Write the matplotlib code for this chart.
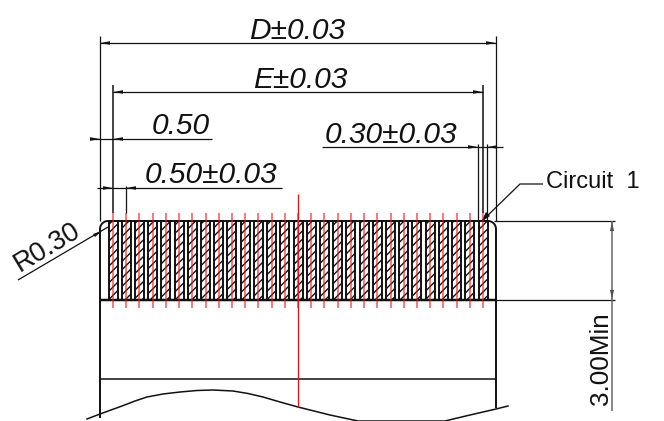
import numpy as np
import matplotlib
matplotlib.use("Agg")
import matplotlib.pyplot as plt
from matplotlib.patches import Rectangle

plt.rcParams["hatch.linewidth"] = 1.0
plt.rcParams["hatch.color"] = "#111111"

# everything is measured in reference pixels
body_left = 100
body_right = 496
body_top = 221
body_bottom = 300
corner = 8
pad_count = 29
pad_first = 113
pad_last = 483
pad_width = 9
center_x = 298

wave_x = [87, 100, 122, 135, 147, 163, 180, 197, 213, 233, 248, 263, 280, 298,
          330, 358, 445, 470, 496, 508]
wave_y = [419, 414, 406, 401, 397, 394, 392, 390.5, 390, 391, 393.5, 397, 402, 407,
          415, 421, 421, 415, 409, 406]

lw_main = 1.4
lw_thin = 0.9
black = "#111111"
red = "#f01010"


def line(ax, xs, ys, lw=lw_thin, color=black, **kw):
    ax.plot(xs, ys, color=color, lw=lw, solid_capstyle="butt", **kw)


def arrow(ax, x, y, direction):
    # small filled arrow head with its tip at (x, y)
    ax.fill([x, x + direction * 10, x + direction * 10], [y, y - 1.8, y + 1.8],
            color=black, lw=0)


def vert_arrow(ax, x, y, direction):
    ax.fill([x, x - 1.8, x + 1.8], [y, y + direction * 10, y + direction * 10],
            color=black, lw=0)


def label(ax, x, y, s, size=21.5, rotation=0, style="italic"):
    ax.text(x, y, s, fontsize=size, family="Liberation Sans", style=style,
            rotation=rotation, ha="left", va="baseline", color=black,
            rotation_mode="anchor")


def main():
    fig = plt.figure(figsize=(6.64, 4.21), dpi=100)
    ax = fig.add_axes([0, 0, 1, 1])
    ax.set_xlim(0, 664)
    ax.set_ylim(421, 0)
    ax.axis("off")

    pads = np.linspace(pad_first, pad_last, pad_count)

    # pads, hatched
    for x in pads:
        ax.add_patch(Rectangle((x - pad_width / 2, body_top), pad_width,
                               body_bottom - body_top, facecolor="white",
                               edgecolor=black, lw=1.4, hatch="////"))
        line(ax, [x, x], [213, 308], lw=1.1, color=red, alpha=0.7, zorder=4)

    # centre line
    line(ax, [center_x, center_x], [194, 407], lw=0.9, color=red, zorder=4)

    # outline with rounded corners
    t = np.linspace(0, np.pi / 2, 12)
    xl = body_left + corner - corner * np.cos(t)
    yl = body_top + corner - corner * np.sin(t)
    xr = body_right - corner + corner * np.sin(t)
    yr = body_top + corner - corner * np.cos(t)
    line(ax, [body_left, *xl, *xr, body_right],
         [418, *yl, *yr, 408], lw=lw_main)
    line(ax, [body_left, 496], [body_bottom, body_bottom], lw=lw_main + 0.4)
    line(ax, [496, 615], [body_bottom, body_bottom], lw=lw_thin)
    line(ax, [body_right - 2, 615], [body_top, body_top], lw=lw_thin)
    line(ax, [body_left, body_right], [379, 379], lw=1.1)

    # broken edge
    ax.plot(wave_x, wave_y, color=black, lw=1.1)

    # D
    line(ax, [body_left, body_left], [36, 221])
    line(ax, [body_right, body_right], [36, 221])
    line(ax, [body_left, body_right], [43, 43])
    arrow(ax, body_left, 43, 1)
    arrow(ax, body_right, 43, -1)
    label(ax, 249, 39, "D±0.03")

    # E
    line(ax, [pad_first, pad_first], [85, 213], lw=1.1)
    line(ax, [pad_last, pad_last], [85, 213], lw=1.1)
    line(ax, [pad_first, pad_last], [92, 92])
    arrow(ax, pad_first, 92, 1)
    arrow(ax, pad_last, 92, -1)
    label(ax, 253, 88, "E±0.03")

    # 0.50 offset
    line(ax, [90, 212], [139, 139])
    arrow(ax, body_left, 139, -1)
    arrow(ax, pad_first, 139, 1)
    label(ax, 152, 134, "0.50")

    # 0.50 pitch
    line(ax, [97, 282], [188, 188])
    arrow(ax, pad_first, 188, -1)
    arrow(ax, pad_first + 13, 188, 1)
    line(ax, [pad_first + 13, pad_first + 13], [186, 213], lw=0.9)
    label(ax, 145, 183, "0.50±0.03")

    # 0.30 pad width
    line(ax, [322, 503], [147, 147])
    arrow(ax, 478, 147, -1)
    arrow(ax, 487, 147, 1)
    line(ax, [478, 478], [144, 221])
    line(ax, [487, 487], [144, 221])
    label(ax, 325, 143, "0.30±0.03")

    # Circuit leader
    line(ax, [482, 520, 543], [221, 184, 184], lw=0.9)
    ax.fill([481, 490, 486], [222, 216, 212], color=black, lw=0)
    label(ax, 546, 188, "Circuit  1", size=17, style="normal")

    # R0.30 leader
    line(ax, [18, 108], [280, 227], lw=0.9)
    ax.fill([102, 93, 95], [231, 234, 237], color=black, lw=0)
    label(ax, 20, 272, "R0.30", size=19.5, rotation=31, style="normal")

    # 3.00Min
    line(ax, [612, 612], [221, 411], lw=1.1, color="#666666")
    vert_arrow(ax, 612, body_top, 1)
    vert_arrow(ax, 612, body_bottom, -1)
    label(ax, 608, 405, "3.00Min", size=18.8, rotation=90, style="normal")

    fig.savefig("out.png", dpi=100)


if __name__ == "__main__":
    main()
